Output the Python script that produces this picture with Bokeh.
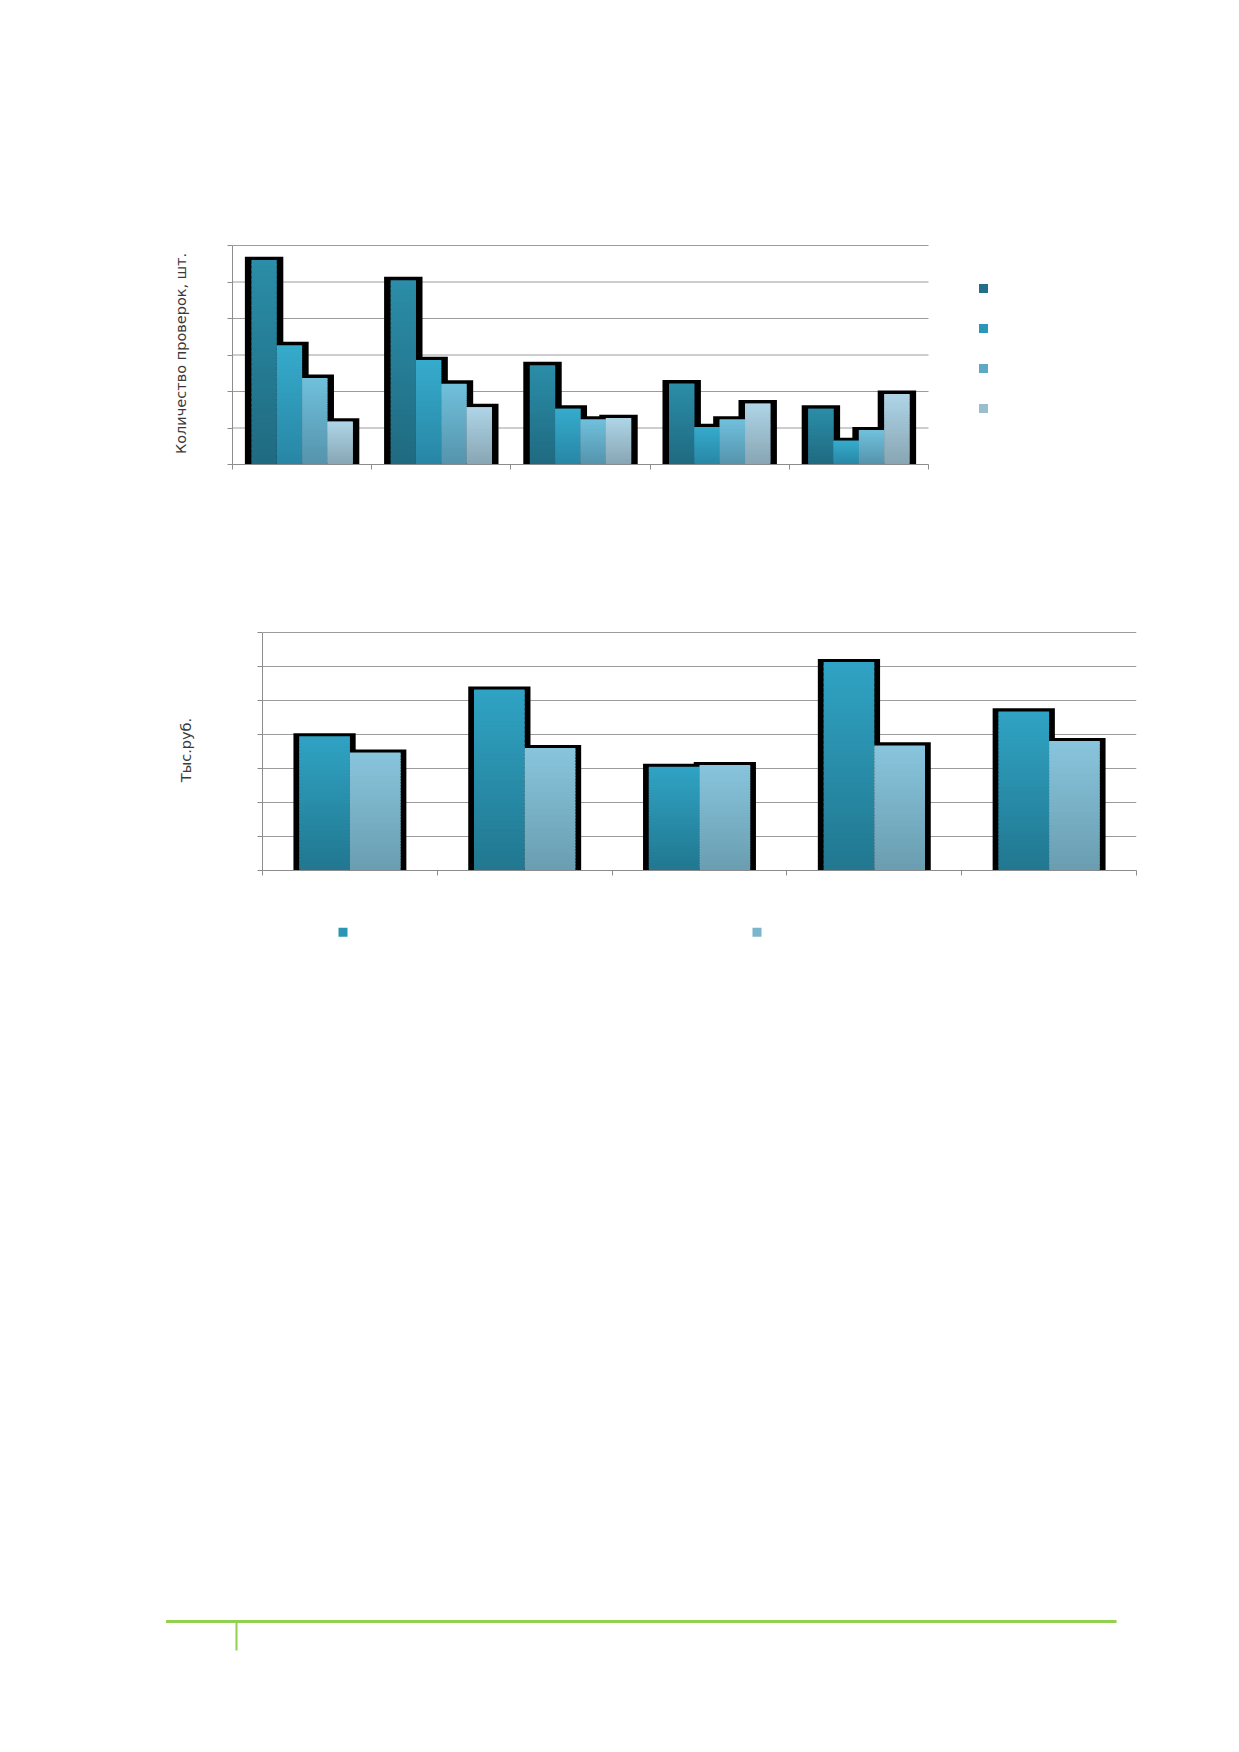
import numpy as np
from bokeh.plotting import figure
from bokeh.models import Range1d, FixedTicker, CustomJSTickFormatter, ColumnDataSource
from bokeh.embed import file_html
from bokeh.resources import INLINE

# ---------------- data (values in grid-interval units) -------------
top_series_1 = [5.60, 5.05, 2.72, 2.22, 1.53]
top_series_2 = [3.27, 2.86, 1.53, 1.02, 0.64]
top_series_3 = [2.37, 2.21, 1.23, 1.23, 0.93]
top_series_4 = [1.17, 1.57, 1.27, 1.67, 1.93]
top_y_ticks = [0, 1, 2, 3, 4, 5, 6]
top_x_ticks = [0, 1, 2, 3, 4, 5]
top_y_title = "Количество проверок, шт."

bottom_series_1 = [3.95, 5.32, 3.05, 6.13, 4.68]
bottom_series_2 = [3.47, 3.60, 3.10, 3.68, 3.81]
bottom_y_ticks = [0, 1, 2, 3, 4, 5, 6, 7]
bottom_x_ticks = [0, 1, 2, 3, 4, 5]
bottom_y_title = "Тыс.руб."

FONT = "DejaVu Sans"
GRID = "#9c9c9c"
AXIS = "#8c8c8c"
GREEN = "#92d050"
W = 1239          # bokeh's page template has no body margin
MARGIN = 0


def h2r(h):
    h = h.lstrip("#")
    return [int(h[i:i + 2], 16) for i in (0, 2, 4)]


def lerp(c0, c1, t):
    a, b = h2r(c0), h2r(c1)
    return "#%02x%02x%02x" % tuple(int(round(a[i] + (b[i] - a[i]) * t)) for i in range(3))


def style_axes(p, xticks, yticks, title, standoff, fsize, ncat, ymax):
    for ax in (p.xaxis[0], p.yaxis[0]):
        ax.axis_line_color = AXIS
        ax.major_tick_line_color = AXIS
        ax.minor_tick_line_color = None
        ax.major_tick_out = 5
        ax.major_tick_in = 0
        ax.formatter = CustomJSTickFormatter(code="return ''")
        ax.major_label_standoff = 5
    p.xaxis[0].ticker = FixedTicker(ticks=xticks)
    p.xaxis[0].bounds = (0, ncat)
    p.yaxis[0].ticker = FixedTicker(ticks=yticks)
    p.yaxis[0].bounds = (0, ymax)
    p.yaxis[0].axis_label = title
    p.yaxis[0].axis_label_text_font = FONT
    p.yaxis[0].axis_label_text_font_size = fsize
    p.yaxis[0].axis_label_text_font_style = "normal"
    p.yaxis[0].axis_label_text_color = "#3a3a3a"
    p.yaxis[0].axis_label_standoff = standoff
    p.xgrid.grid_line_color = None
    p.ygrid.grid_line_color = None
    # horizontal grid lines limited to the category span
    p.segment(x0=[0] * len(yticks), x1=[ncat] * len(yticks), y0=yticks, y1=yticks,
              line_color=GRID, line_width=1)


def draw_bars(p, series, colors, bar_w, dx, dy, ymax, n=40):
    k = len(series)
    ncat = len(series[0])
    centers = np.arange(ncat) + 0.5
    offsets = (np.arange(k) - (k - 1) / 2.0) * bar_w
    # thick black outline behind the bars
    for vals, off in zip(series, offsets):
        p.vbar(x=centers + off, width=bar_w + 2 * dx, bottom=0,
               top=np.array(vals) + dy, fill_color="black", line_color=None)
    # vertical gradient fills (slices overlap slightly upward to hide seams)
    ov = ymax * 0.006
    for vals, off, (ctop, cbot) in zip(series, offsets, colors):
        xs, bots, tops, cols = [], [], [], []
        for i in range(n):
            col = lerp(cbot, ctop, (i + 0.5) / n)
            for c, v in zip(centers, vals):
                xs.append(c + off)
                bots.append(v * i / n)
                tops.append(v * (i + 1) / n + (ov if i < n - 1 else 0.0))
                cols.append(col)
        src = ColumnDataSource(dict(x=xs, bottom=bots, top=tops, color=cols))
        p.vbar(x="x", width=bar_w, bottom="bottom", top="top", fill_color="color",
               line_color=None, source=src)


# ---------------- top chart ----------------
# plot area in page px: left 232, top 245, bottom 464; 5 categories of 139.2px.
# frame extended right (axis/grid limited to the categories) to hold the key squares,
# and 3px up so the top grid line is not clipped.
T_LEFT, T_TOP, T_BOT, T_CAT, T_RIGHT, T_PAD = 232, 245, 464, 139.2, 1000, 3
P1_H = 540
t_unit = (T_BOT - T_TOP) / 6.0
t_xmax = (T_RIGHT - T_LEFT) / T_CAT
p1 = figure(width=W, height=P1_H, x_range=Range1d(0, t_xmax),
            y_range=Range1d(0, 6 + T_PAD / t_unit),
            output_backend="svg", toolbar_location=None,
            min_border_left=int(T_LEFT - MARGIN), min_border_right=int(W - (T_RIGHT - MARGIN)),
            min_border_top=int(T_TOP - T_PAD - MARGIN),
            min_border_bottom=int(P1_H - (T_BOT - MARGIN)))
p1.outline_line_color = None
style_axes(p1, top_x_ticks, top_y_ticks, top_y_title, 39, "14.5px", 5, 6)
top_colors = [("#2b8da8", "#1f6a80"), ("#36abcd", "#2886a4"),
              ("#70c0dc", "#5593ab"), ("#aed5e7", "#88a5b3")]
draw_bars(p1, [top_series_1, top_series_2, top_series_3, top_series_4], top_colors,
          bar_w=0.182, dx=0.047, dy=0.095, ymax=6)
# legend key squares (labels are empty in the source picture)
top_keys = ["#236f87", "#2a97b8", "#5ea8c3", "#9bbecd"]
key_px_y = [288 + 40 * j for j in range(4)]
p1.scatter(x=[(983 - T_LEFT) / T_CAT] * 4, y=[(T_BOT - yy) / t_unit for yy in key_px_y],
           marker="square", size=9, fill_color=top_keys, line_color=None)

# ---------------- bottom chart ----------------
B_LEFT, B_TOP, B_BOT, B_RIGHT, B_PAD = 262, 632, 870, 1136, 3
P2_TOP, P2_H = 540, 360
b_unit = (B_BOT - B_TOP) / 7.0
p2 = figure(width=W, height=P2_H, x_range=Range1d(0, 5), y_range=Range1d(0, 7 + B_PAD / b_unit),
            output_backend="svg", toolbar_location=None,
            min_border_left=B_LEFT - MARGIN, min_border_right=W - (B_RIGHT - MARGIN),
            min_border_top=B_TOP - B_PAD - P2_TOP, min_border_bottom=P2_TOP + P2_H - B_BOT)
p2.outline_line_color = None
style_axes(p2, bottom_x_ticks, bottom_y_ticks, bottom_y_title, 64, "14.5px", 5, 7)
bottom_colors = [("#30a3c4", "#21778f"), ("#88c5dd", "#6a9db0")]
draw_bars(p2, [bottom_series_1, bottom_series_2], bottom_colors,
          bar_w=0.29, dx=0.033, dy=0.09, ymax=7)

# ---------------- page footer (page coordinates) ----------------
P3_TOP = P2_TOP + P2_H
p3 = figure(width=W, height=1740 - P3_TOP, x_range=Range1d(MARGIN, MARGIN + W),
            y_range=Range1d(1740, P3_TOP),
            output_backend="svg", toolbar_location=None, x_axis_type=None, y_axis_type=None,
            min_border=0)
p3.outline_line_color = None
p3.grid.grid_line_color = None
# key squares of the bottom chart's legend (labels empty in the source picture)
bottom_keys = ["#2b95b4", "#7ab5cc"]
p3.scatter(x=[342.5, 756.5], y=[931.7, 931.7], marker="square", size=9,
           fill_color=bottom_keys, line_color=None)
p3.segment(x0=[165.6], y0=[1621], x1=[1116], y1=[1621], line_color=GREEN, line_width=3)
p3.segment(x0=[236], y0=[1621], x1=[236], y1=[1650], line_color=GREEN, line_width=2)

open("out.html", "w").write(file_html([p1, p2, p3], INLINE))
